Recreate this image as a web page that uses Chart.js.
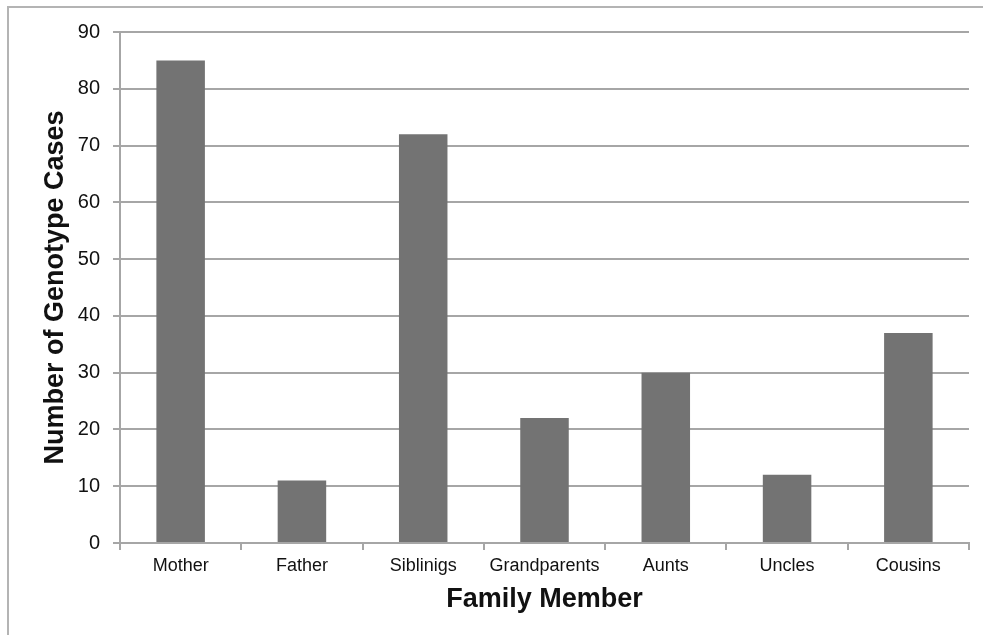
<!DOCTYPE html>
<html>
<head>
<meta charset="utf-8">
<script src="https://cdn.jsdelivr.net/npm/chart.js@4/dist/chart.umd.min.js"></script>
<style>
  html, body { margin: 0; padding: 0; background: #fff; }
  canvas { display: block; }
</style>
</head>
<body>
<canvas id="graphic-genotype" width="983" height="635"></canvas>
<script>
const graphicGenotype = document.getElementById('graphic-genotype');

var familyMembers = ['Mother', 'Father', 'Siblinigs', 'Grandparents', 'Aunts', 'Uncles', 'Cousins'];
var genotypeCases = [85, 11, 72, 22, 30, 12, 37];
var yTicks = [0, 10, 20, 30, 40, 50, 60, 70, 80, 90];

// outer frame, only left and top edges show
const frame = {
    id: 'frame',
    beforeDraw(chart) {
        const ctx = chart.ctx;
        ctx.save();
        ctx.strokeStyle = '#b4b4b4';
        ctx.lineWidth = 2;
        ctx.beginPath();
        ctx.moveTo(8, chart.height);
        ctx.lineTo(8, 7);
        ctx.lineTo(chart.width, 7);
        ctx.stroke();
        ctx.restore();
    }
};

Chart.defaults.font.family = '"Liberation Sans", Arial, sans-serif';
Chart.defaults.color = '#111';

new Chart(graphicGenotype, {
    type: 'bar',
    data: {
        labels: familyMembers,
        datasets: [{
            data: genotypeCases,
            backgroundColor: '#737373',
            borderWidth: 0,
            barPercentage: 0.4,
            categoryPercentage: 1
        }]
    },
    options: {
        responsive: false,
        maintainAspectRatio: false,
        animation: false,
        layout: {
            padding: { left: 0, right: 14, top: 32, bottom: 19 }
        },
        scales: {
            x: {
                afterFit: function (scale) { scale.height = 73; },
                grid: {
                    drawOnChartArea: false,
                    drawTicks: true,
                    tickLength: 7,
                    color: '#a6a6a6',
                    lineWidth: 2
                },
                border: { color: '#a6a6a6', width: 2 },
                ticks: {
                    font: { size: 18 },
                    padding: 5,
                    maxRotation: 0,
                    autoSkip: false
                },
                title: {
                    display: true,
                    text: 'Family Member',
                    font: { size: 27, weight: 'bold' },
                    padding: { top: 0, bottom: 0 }
                }
            },
            y: {
                min: 0,
                max: 90,
                afterFit: function (scale) { scale.width = 120; },
                afterBuildTicks: function (scale) {
                    scale.ticks = yTicks.map(v => ({ value: v }));
                },
                grid: {
                    color: '#a6a6a6',
                    lineWidth: 2,
                    tickLength: 7
                },
                border: { color: '#a6a6a6', width: 2 },
                ticks: {
                    font: { size: 20 },
                    padding: 13
                },
                title: {
                    display: true,
                    text: 'Number of Genotype Cases',
                    font: { size: 27, weight: 'bold' },
                    padding: { top: 39, bottom: 0 }
                }
            }
        },
        plugins: {
            legend: { display: false },
            tooltip: { enabled: false }
        }
    },
    plugins: [frame]
});
</script>
</body>
</html>
